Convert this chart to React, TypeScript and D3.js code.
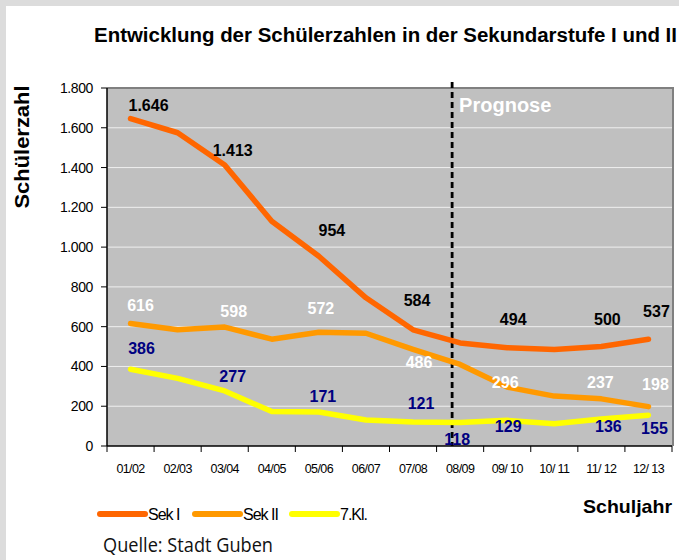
import React from "react";
import * as d3 from "d3";

// Schuljahre (x-axis categories)
const years = ["01/02", "02/03", "03/04", "04/05", "05/06", "06/07", "07/08", "08/09", "09/10", "10/11", "11/12", "12/13"];
const xTickLabels = ["01/02", "02/03", "03/04", "04/05", "05/06", "06/07", "07/08", "08/09", "09/ 10", "10/ 11", "11/ 12", "12/ 13"];

// Schülerzahlen per series
const sekI = [1646, 1575, 1413, 1130, 954, 745, 584, 518, 494, 485, 500, 537];
const sekII = [616, 585, 598, 537, 572, 567, 486, 410, 296, 251, 237, 198];
const kl7 = [386, 340, 277, 173, 171, 131, 121, 118, 129, 112, 136, 155];

const yTicks = [0, 200, 400, 600, 800, 1000, 1200, 1400, 1600, 1800];
const forecastFrom = "08/09";

// which points carry a value label
const sekILabelled = ["01/02", "03/04", "05/06", "07/08", "09/10", "11/12", "12/13"];
const sekIILabelled = ["01/02", "03/04", "05/06", "07/08", "09/10", "11/12", "12/13"];
const kl7Labelled = ["01/02", "03/04", "05/06", "07/08", "08/09", "09/10", "11/12", "12/13"];

// hand placement of the value labels (dx, dy from the point), like in the original sheet
const sekIOffsets = [[18, -8], [8, -9], [13, -20], [4, -24], [6, -23], [6, -22], [8, -22]];
const sekIIOffsets = [[10, -12], [9, -10], [2, -18], [6, 19], [-2, 1], [-1, -11], [7, -17]];
const kl7Offsets = [[11, -15], [8, -9], [4, -10], [8, -13], [-3, 22], [1, 12], [7, 13], [6, 19]];

const de = d3.formatLocale({ decimal: ",", thousands: ".", grouping: [3], currency: ["", " €"] });
const fmt = de.format(",d");

const W = 679;
const H = 560;
const plot = { left: 107, right: 672, top: 88, bottom: 446 };

const COL_SEK1 = "#ff6600";
const COL_SEK2 = "#ff9900";
const COL_KL7 = "#ffff00";

const FONT = "'Liberation Sans', Arial, sans-serif";

export default function App() {
  const x = d3.scaleBand<string>().domain(years).range([plot.left, plot.right]).padding(0);
  const y = d3.scaleLinear().domain([0, 1800]).range([plot.bottom, plot.top]);
  const cx = (yr: string) => (x(yr) as number) + x.bandwidth() / 2;

  const line = d3
    .line<number>()
    .x((_, i) => cx(years[i]))
    .y(d => y(d));

  const series = [
    { name: "Sek I", values: sekI, color: COL_SEK1, labelled: sekILabelled, offsets: sekIOffsets, textColor: "#000000" },
    { name: "Sek II", values: sekII, color: COL_SEK2, labelled: sekIILabelled, offsets: sekIIOffsets, textColor: "#ffffff" },
    { name: "7.Kl.", values: kl7, color: COL_KL7, labelled: kl7Labelled, offsets: kl7Offsets, textColor: "#000080" }
  ];

  const bandEdges = d3.range(years.length + 1).map(i => plot.left + i * x.bandwidth());
  const forecastX = (x(forecastFrom) as number) + x.bandwidth() * 0.33;

  const legendX = [98, 193, 290];

  return (
    <svg width={W} height={H} style={{ position: "fixed", left: 0, top: 0 }} fontFamily={FONT}>
      <rect x={0} y={0} width={W} height={H} fill="#ffffff" />
      <rect x={0} y={0} width={6} height={H} fill="#dcdcdc" />
      <rect x={0} y={0} width={W} height={6} fill="#dcdcdc" />

      <text x={94} y={42} fontSize={20} fontWeight="bold" textLength={583} lengthAdjust="spacingAndGlyphs">
        Entwicklung der Schülerzahlen in der Sekundarstufe I und II
      </text>

      {/* plot area */}
      <rect x={plot.left} y={plot.top} width={plot.right - plot.left} height={plot.bottom - plot.top} fill="#c0c0c0" />
      {yTicks.slice(1, -1).map(t => (
        <line key={t} x1={plot.left} x2={plot.right} y1={y(t)} y2={y(t)} stroke="#efefef" strokeWidth={1} />
      ))}
      <line x1={plot.left} x2={plot.right + 2} y1={plot.top} y2={plot.top} stroke="#808080" strokeWidth={2} />
      <line x1={plot.right + 1} x2={plot.right + 1} y1={plot.top} y2={plot.bottom} stroke="#808080" strokeWidth={2} />

      {/* y axis */}
      <line x1={plot.left} x2={plot.left} y1={plot.top} y2={plot.bottom} stroke="#000" strokeWidth={1.5} />
      {yTicks.map(t => (
        <g key={t}>
          <line x1={plot.left - 6} x2={plot.left} y1={y(t)} y2={y(t)} stroke="#000" strokeWidth={1} />
          <text x={93} y={y(t) + 5} fontSize={14} textAnchor="end" letterSpacing={-0.4}>
            {fmt(t)}
          </text>
        </g>
      ))}

      {/* x axis */}
      <line x1={plot.left} x2={plot.right} y1={plot.bottom} y2={plot.bottom} stroke="#000" strokeWidth={1.5} />
      {bandEdges.map((e, i) => (
        <line key={i} x1={e} x2={e} y1={plot.bottom} y2={plot.bottom + 6} stroke="#000" strokeWidth={1} />
      ))}
      {years.map((yr, i) => (
        <text key={yr} x={cx(yr)} y={473} fontSize={12.5} textAnchor="middle" letterSpacing={-0.6}>
          {xTickLabels[i]}
        </text>
      ))}

      {/* forecast marker */}
      <line x1={forecastX} x2={forecastX} y1={82} y2={plot.bottom} stroke="#000" strokeWidth={2.8} strokeDasharray="6,4" />
      <text x={forecastX + 7} y={112} fontSize={20} fontWeight="bold" fill="#ffffff">
        Prognose
      </text>

      {/* lines */}
      {series.map(s => (
        <path
          key={s.name}
          d={line(s.values) as string}
          fill="none"
          stroke={s.color}
          strokeWidth={5.5}
          strokeLinejoin="round"
          strokeLinecap="round"
        />
      ))}

      {/* value labels */}
      {series.map(s =>
        s.labelled.map((yr, j) => {
          const i = years.indexOf(yr);
          const [dx, dy] = s.offsets[j];
          return (
            <text
              key={s.name + yr}
              x={cx(yr) + dx}
              y={y(s.values[i]) + dy}
              fontSize={16}
              fontWeight="bold"
              textAnchor="middle"
              fill={s.textColor}
            >
              {fmt(s.values[i])}
            </text>
          );
        })
      )}

      {/* axis titles */}
      <text
        transform={`translate(29, ${147}) rotate(-90)`}
        fontSize={21}
        fontWeight="bold"
        textAnchor="middle"
        textLength={123}
        lengthAdjust="spacingAndGlyphs"
      >
        Schülerzahl
      </text>
      <text x={672} y={513} fontSize={18.5} fontWeight="bold" textAnchor="end" textLength={89} lengthAdjust="spacingAndGlyphs">
        Schuljahr
      </text>

      {/* legend */}
      {series.map((s, i) => (
        <g key={s.name} transform={`translate(${legendX[i]}, 514)`}>
          <line x1={2} x2={47} y1={0} y2={0} stroke={s.color} strokeWidth={6} strokeLinecap="round" />
          <text x={50} y={5.5} fontSize={16} letterSpacing={-1}>
            {s.name}
          </text>
        </g>
      ))}

      <text x={103} y={552} fontSize={20} fontFamily="'Open Sans', sans-serif" textLength={170} lengthAdjust="spacingAndGlyphs" fill="#111">
        Quelle: Stadt Guben
      </text>
    </svg>
  );
}
